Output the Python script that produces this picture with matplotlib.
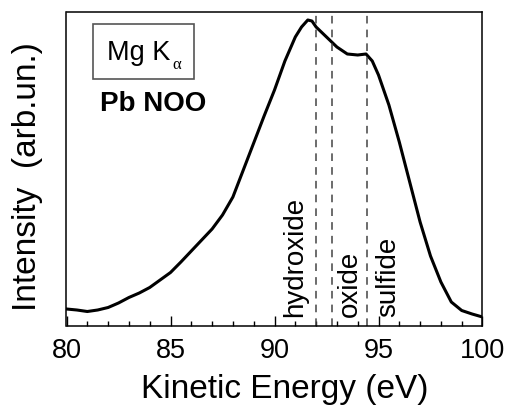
import matplotlib
matplotlib.use("Agg")
import matplotlib.pyplot as plt
from matplotlib.patches import Rectangle
from matplotlib.ticker import MultipleLocator

plt.rcParams['font.family'] = ['Liberation Sans', 'DejaVu Sans']

# Data (kinetic energy in eV, intensity arb. units)
energy = [80, 80.5, 81, 81.5, 82, 82.5, 83, 83.5, 84, 84.5, 85, 85.5, 86, 86.5,
          87, 87.5, 88, 88.5, 89, 89.5, 90, 90.5, 91, 91.3, 91.6, 91.8, 92,
          92.3, 92.6, 93, 93.5, 94, 94.4, 94.7, 95, 95.5, 96, 96.5, 97, 97.5,
          98, 98.5, 99, 99.5, 100]
intensity = [16.7, 15.7, 14.2, 15.7, 18.2, 22.7, 28.2, 32.7, 38.2, 45.7, 53.2,
             63.7, 74.7, 85.7, 96.7, 110.7, 128.7, 155.7, 182.7, 209.7, 235.7,
             264.7, 288.7, 298.7, 305.7, 304.7, 298.7, 292.7, 286.7, 278.7,
             271.7, 270.7, 271.7, 264.7, 250.7, 220.7, 183.7, 143.7, 103.7,
             69.7, 43.7, 23.7, 15.2, 11.7, 8.7]

ref_lines = [92.0, 92.75, 94.45]
ref_labels = ["hydroxide", "oxide", "sulfide"]
ref_label_x = [90.99, 93.63, 95.46]

fig = plt.figure(figsize=(5.06, 4.06), dpi=100)
ax = fig.add_axes([66.5/506, 79.3/406, 416/506, 314/406])

ax.plot(energy, intensity, color='black', lw=2.2)
for xv in ref_lines:
    ax.axvline(xv, color='#444444', lw=1.1, ls=(0, (5, 4)))
for xv, lab in zip(ref_label_x, ref_labels):
    ax.text(xv, 0.032, lab, rotation=90, ha='center', va='bottom', fontsize=20,
            transform=ax.get_xaxis_transform())

ax.set_xlim(80, 100)
ax.set_ylim(0, 314)
ax.set_yticks([])
ax.xaxis.set_major_locator(MultipleLocator(5))
ax.xaxis.set_minor_locator(MultipleLocator(1))
ax.tick_params(axis='x', which='major', direction='in', length=7, width=1,
               labelsize=19.5, pad=8)
ax.tick_params(axis='x', which='minor', direction='in', length=3.6, width=1)
for s in ax.spines.values():
    s.set_linewidth(1.1)

ax.set_xlabel("Kinetic Energy (eV)", fontsize=24)
ax.set_ylabel("Intensity  (arb.un.)", fontsize=24)
ax.xaxis.set_label_coords(0.524, -0.152)
ax.yaxis.set_label_coords(-0.056, 0.478)

# Mg K alpha box
ax.add_patch(Rectangle((0.0637, 0.786), 0.2428, 0.175, transform=ax.transAxes,
                       fill=False, edgecolor='#555555', lw=1.2))
ax.text(0.0962, 0.849, "Mg K", transform=ax.transAxes, fontsize=19.5,
        ha='left', va='baseline')
ax.text(0.254, 0.822, "α", transform=ax.transAxes, fontsize=12,
        family=['Liberation Serif', 'DejaVu Serif'], ha='left', va='baseline')
ax.text(0.081, 0.688, "Pb NOO", transform=ax.transAxes, fontsize=20,
        fontweight='bold', ha='left', va='baseline')

fig.savefig("out.png", dpi=100)
